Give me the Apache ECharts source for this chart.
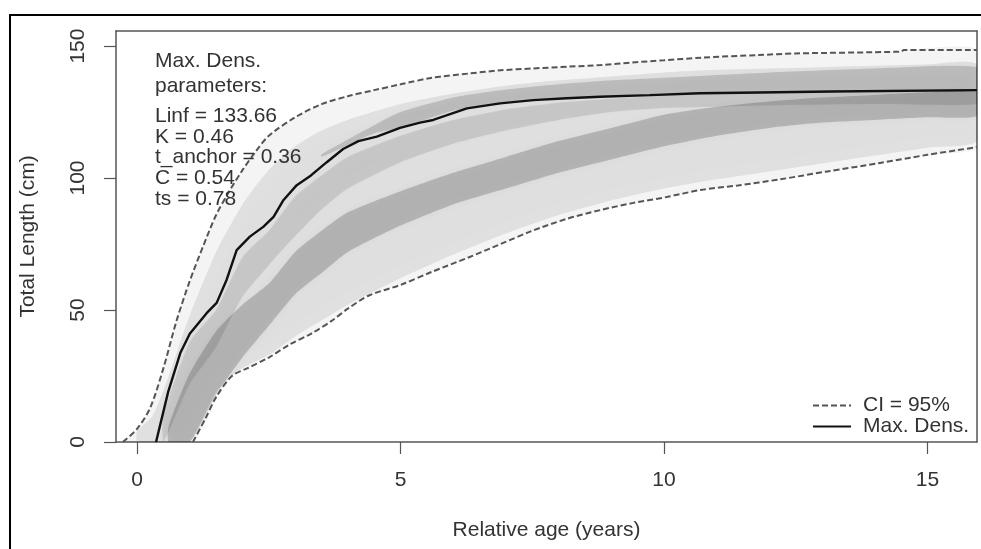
<!DOCTYPE html>
<html>
<head>
<meta charset="utf-8">
<script src="https://cdn.jsdelivr.net/npm/echarts@6/dist/echarts.min.js"></script>
<style>
html,body{margin:0;padding:0;background:#fff;}
#chart{width:981px;height:549px;}
</style>
</head>
<body>
<div id="chart"></div>
<script>
// ---- data ----
const xTicks = [0, 5, 10, 15];
const yTicks = [0, 50, 100, 150];

// Max. density growth curve (age in years, total length in cm)
const maxDensAge = [0.36,0.59,0.82,1.0,1.32,1.51,1.7,1.89,2.14,2.4,2.59,2.78,3.03,3.3,3.6,3.91,4.2,4.55,4.99,5.37,5.62,6.26,6.89,7.52,8.15,8.79,9.73,10.68,11.44,11.46,13.18,13.2,15.94];
const maxDensLen = [0,19,33.7,41,48.8,52.7,61.5,72.7,77.8,81.6,85.3,91.7,97.3,101,106,111,114,115.7,119,121,122,126.4,128.3,129.5,130.2,130.8,131.4,132.1,132.3,132.8,132.8,133.3,133.3];

// upper 95% CI
const upperAge = [-0.27,0,0.25,0.5,0.75,1,1.25,1.5,1.75,2,2.25,2.5,3,3.5,4,4.5,5,5.6,6.3,6.9,7.5,8.2,8.8,9.4,10,10.7,11.8,12.5,14.5,14.55,15.94];
const upperLen = [0,5,13,28,46,61,74,86,95,103,110,116,123,128,131,133.3,135.5,138,139.6,140.8,141.5,142.2,142.8,143.8,144.6,145.6,146.6,147.2,147.9,148.5,148.5];

// lower 95% CI
const lowerAge = [1.06,1.3,1.5,1.8,2.1,2.5,2.9,3.3,3.7,4.0,4.4,5.0,5.6,6.3,6.9,7.5,8.15,8.8,9.4,10.05,10.7,11.4,12.2,13.1,14.1,15.0,15.94];
const lowerLen = [0,9,17,25,28,32,37,41,46,50.5,55.5,59.5,64.5,70,75,80,84.5,87.9,90.5,92.8,95.5,97.2,99.5,102.5,105.7,108.8,111.7];

// density bands of the bootstrap curves: [age, lower length, upper length]
const mainBand = [[0.0,0,4],[0.3,0,10],[0.6,0,25],[1.0,0,48],[1.5,19,72],[2.0,28,90],[2.5,33,103],[3.0,40,112],[3.5,46,118],[4.0,52,122],[5.0,62,128],[6.0,71,132],[7.0,79,135],[8.0,86,137],[9.0,91.5,138.5],[10,96,140],[11,99.5,141],[12,102.5,141.5],[13,105.5,142],[14,108.5,142.5],[15,111.5,143],[15.94,114,143]];
const nearBlackBand = [[0.5,0,10],[1.0,22,38],[1.5,36,50],[2.0,55,70],[2.5,67,80],[3.0,78,93],[3.5,88,101],[4.0,96,108],[5.0,106,116],[6.0,113,122],[7.0,118,126],[8.0,122,128.5],[9.0,125,130],[10,126.5,131.5],[12,127.5,132.5],[14,128,133],[15.94,128,133.2]];
const coreBand = [[0.6,0,6],[1.0,0,26],[1.5,18,42],[2.0,32,52],[2.5,44,60],[3.0,56,72],[3.5,64,80],[4.0,72,87],[5.0,82,95],[6.0,90,102],[7.0,96,108],[8.0,102,114],[9.0,107,119],[10,112,124],[11,116,127],[12,119,129],[13,121,130.5],[14,122,131.5],[15,123,132.5],[15.94,123.5,132.8]];
const topBand = [[3.5,108,109],[4.5,117,120],[5.0,119,125],[6.0,125.5,130.5],[7.0,128.3,133.5],[8.0,130,135.5],[9.0,131,137],[10,132,138],[12,132.8,140],[14,133.3,141.5],[15.94,133.3,142]];

const headerLines = ['Max. Dens.', 'parameters:'];
const paramLines = ['Linf = 133.66', 'K = 0.46', 't_anchor = 0.36', 'C = 0.54', 'ts = 0.78'];
const legendNames = ['CI = 95%', 'Max. Dens.'];

// ---- build ----
const FONT = '"Liberation Sans", Arial, sans-serif';
const zip = (a, b) => a.map((v, i) => [v, b[i]]);
const upperPts = zip(upperAge, upperLen);
const lowerPts = zip(lowerAge, lowerLen);
const maxPts = zip(maxDensAge, maxDensLen);

function bandPoly(b) {
  return b.map(p => [p[0], p[2]]).concat(b.slice().reverse().map(p => [p[0], p[1]]));
}
const bandDefs = [
  { poly: upperPts.concat(lowerPts.slice().reverse()), color: 'rgba(0,0,0,0.045)', blur: 0 },
  { poly: bandPoly(mainBand), color: 'rgba(0,0,0,0.08)', blur: 8 },
  { poly: bandPoly(topBand), color: 'rgba(0,0,0,0.15)', blur: 8 },
  { poly: bandPoly(nearBlackBand), color: 'rgba(0,0,0,0.10)', blur: 8 },
  { poly: bandPoly(coreBand), color: 'rgba(0,0,0,0.18)', blur: 8 }
];

const chart = echarts.init(document.getElementById('chart'), null, { renderer: 'canvas' });
const axisColor = '#555';
const option = {
  animation: false,
  backgroundColor: '#fff',
  grid: { left: 116, right: 4, top: 31, bottom: 107, show: false },
  xAxis: [{
    type: 'value', min: -0.4, max: 15.94, position: 'bottom',
    name: 'Relative age (years)', nameLocation: 'middle', nameGap: 78,
    nameTextStyle: { fontFamily: FONT, fontSize: 21, color: '#333' },
    axisLine: { show: true, onZero: false, lineStyle: { color: axisColor, width: 1.5 } },
    axisTick: { show: true, length: 12, inside: false, customValues: xTicks, lineStyle: { color: axisColor, width: 1.2 } },
    axisLabel: { customValues: xTicks, margin: 28, fontFamily: FONT, fontSize: 21, color: '#333' },
    splitLine: { show: false }
  }, {
    type: 'value', min: -0.4, max: 15.94, position: 'top',
    axisLine: { show: true, onZero: false, lineStyle: { color: axisColor, width: 1.5 } },
    axisTick: { show: false }, axisLabel: { show: false }, splitLine: { show: false }
  }],
  yAxis: [{
    type: 'value', min: 0, max: 155.7, position: 'left',
    name: 'Total Length (cm)', nameLocation: 'middle', nameGap: 77,
    nameTextStyle: { fontFamily: FONT, fontSize: 21, color: '#333' },
    axisLine: { show: true, onZero: false, lineStyle: { color: axisColor, width: 1.5 } },
    axisTick: { show: true, length: 12, inside: false, customValues: yTicks, lineStyle: { color: axisColor, width: 1.2 } },
    axisLabel: { customValues: yTicks, rotate: 90, margin: 27, fontFamily: FONT, fontSize: 21, color: '#333' },
    splitLine: { show: false }
  }, {
    type: 'value', min: 0, max: 155.7, position: 'right',
    axisLine: { show: true, onZero: false, lineStyle: { color: axisColor, width: 1.5 } },
    axisTick: { show: false }, axisLabel: { show: false }, splitLine: { show: false }
  }],
  legend: {
    data: legendNames, orient: 'vertical', left: 807, top: 390,
    itemWidth: 38, itemHeight: 12, itemGap: 0,
    itemStyle: { opacity: 0 },
    textStyle: { fontFamily: FONT, fontSize: 21, color: '#333', lineHeight: 20, padding: [0, 0, 0, 7] }
  },
  graphic: [
    { type: 'rect', silent: true, z: 100, shape: { x: 10, y: 15, width: 1100, height: 700 },
      style: { fill: null, stroke: '#000', lineWidth: 2 } },
    { type: 'text', z: 100, left: 155, top: 49,
      style: { text: headerLines.join('\n'), font: '21px ' + FONT, fill: '#333', lineHeight: 25 } },
    { type: 'text', z: 100, left: 155, top: 106,
      style: { text: paramLines.join('\n'), font: '21px ' + FONT, fill: '#333', lineHeight: 20.6 } }
  ],
  series: [
    {
      type: 'custom', name: 'bands', coordinateSystem: 'cartesian2d', clip: true, silent: true, z: 1,
      data: bandDefs.map(d => d.poly[0]),
      renderItem: function (params, api) {
        const def = bandDefs[params.dataIndex];
        const pts = def.poly.map(p => api.coord(p));
        return { type: 'polygon', shape: { points: pts, smooth: 0.2 },
          style: { fill: def.color, stroke: null, shadowBlur: def.blur, shadowColor: def.color } };
      }
    },
    {
      type: 'line', name: 'CI = 95%', data: upperPts, symbol: 'none', smooth: 0.3, z: 3,
      lineStyle: { color: '#555', width: 2, type: [6, 3] }, itemStyle: { color: '#555' }
    },
    {
      type: 'line', name: 'CI = 95%', data: lowerPts, symbol: 'none', smooth: 0.3, z: 3,
      lineStyle: { color: '#555', width: 2, type: [6, 3] }, itemStyle: { color: '#555' }
    },
    {
      type: 'line', name: 'Max. Dens.', data: maxPts, symbol: 'none', z: 4,
      lineStyle: { color: '#111', width: 2.4 }, itemStyle: { color: '#111' }
    }
  ]
};
chart.setOption(option);
</script>
</body>
</html>
